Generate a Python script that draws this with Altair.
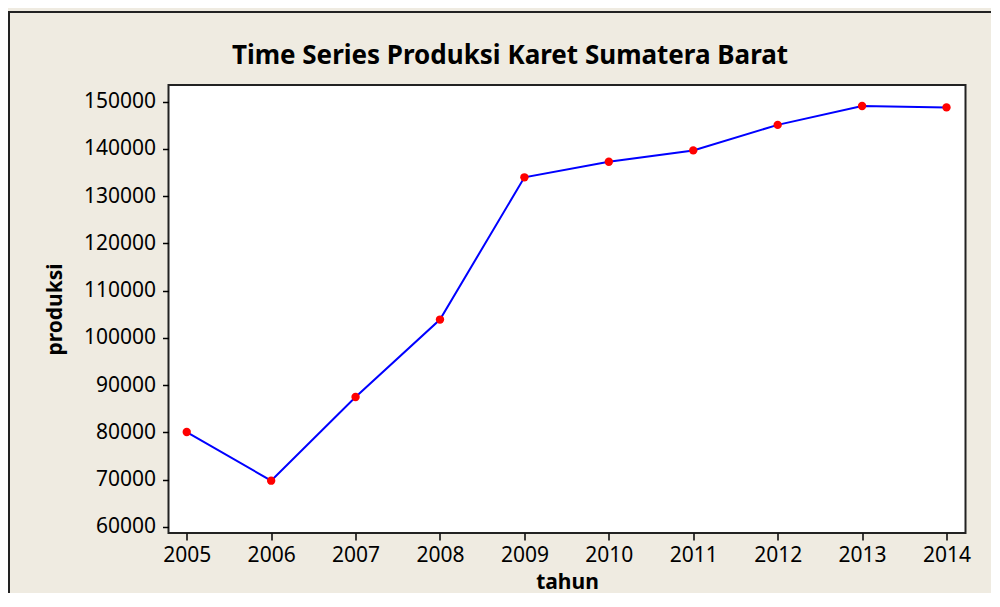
import altair as alt
import pandas as pd

years = [2005, 2006, 2007, 2008, 2009, 2010, 2011, 2012, 2013, 2014]
produksi = [80100, 69800, 87500, 103900, 134000, 137300, 139700, 145100, 149100, 148800]
y_ticks = [60000, 70000, 80000, 90000, 100000, 110000, 120000, 130000, 140000, 150000]
title_text = "Time Series Produksi Karet Sumatera Barat"

df = pd.DataFrame({"tahun": years, "produksi": produksi})
title_df = pd.DataFrame({"t": [title_text]})

FONT = "Noto Sans"
BG = "#efebe1"

x_enc = alt.X(
    "tahun:Q",
    scale=alt.Scale(domain=[2004.784, 2014.225], nice=False, zero=False),
    axis=alt.Axis(
        values=years, format="d", title="tahun", grid=False, domain=False,
        tickSize=7, tickWidth=1.5, tickColor="black", labelPadding=4,
        labelFont=FONT, labelFontSize=21, labelColor="black",
        titleFont=FONT, titleFontSize=21, titleFontWeight="bold", titleColor="black",
        titlePadding=6,
    ),
)
y_enc = alt.Y(
    "produksi:Q",
    scale=alt.Scale(domain=[58730, 153540], nice=False, zero=False),
    axis=alt.Axis(
        values=y_ticks, format="d", title="produksi", grid=False, domain=False,
        tickSize=6, tickWidth=1.5, tickColor="black", labelPadding=7,
        labelFont=FONT, labelFontSize=21, labelColor="black",
        titleFont=FONT, titleFontSize=21, titleFontWeight="bold", titleColor="black",
        titlePadding=18,
    ),
)

base = alt.Chart(df)

frame = base.mark_rect(fill=None, stroke="#222222", strokeWidth=2).encode(
    x=alt.value(-159.5), x2=alt.value(900), y=alt.value(-73), y2=alt.value(700)
)

title_mark = alt.Chart(title_df).mark_text(
    font=FONT, fontSize=26, fontWeight="bold", color="black",
    align="center", baseline="alphabetic",
).encode(text="t:N", x=alt.value(341.5), y=alt.value(-21))

line = base.mark_line(color="#0000ff", strokeWidth=2).encode(x=x_enc, y=y_enc)
points = base.mark_circle(color="#ff0000", opacity=1, size=70).encode(x=x_enc, y=y_enc)

chart = (
    alt.layer(frame, title_mark, line, points)
    .properties(
        width=797,
        height=448,
        background=BG,
        padding={"left": 160.5, "top": 77, "right": 25, "bottom": 60},
        autosize=alt.AutoSizeParams(type="none"),
    )
    .configure_view(fill="white", stroke="#222222", strokeWidth=2)
)

chart.save("out.html", embed_options={"renderer": "svg", "actions": False})
